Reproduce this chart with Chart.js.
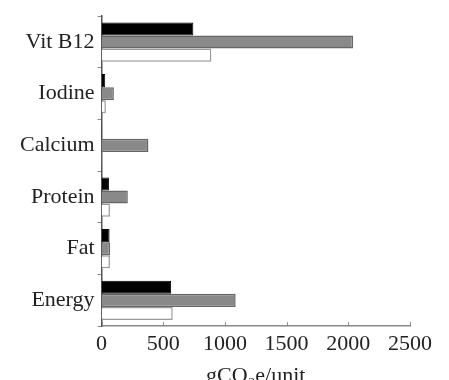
<!DOCTYPE html>
<html>
<head>
<meta charset="utf-8">
<script src="https://cdn.jsdelivr.net/npm/chart.js@4"></script>
<style>
  html, body { margin: 0; padding: 0; background: #fff; overflow: hidden; }
  #wrap { width: 449px; height: 389px; }
</style>
</head>
<body>
<div id="wrap"><canvas id="myChart" width="449" height="389"></canvas></div>
<script>
const categories = ['Vit B12', 'Iodine', 'Calcium', 'Protein', 'Fat', 'Energy'];
const blackSeries = [744, 30, 5, 60, 65, 564];
const greySeries = [2039, 100, 380, 213, 70, 1087];
const whiteSeries = [890, 35, 5, 68, 68, 577];
const xTicks = [0, 500, 1000, 1500, 2000, 2500];

const serif = 'Liberation Serif';

// small upward tick marks on the x axis
const innerTicks = {
  id: 'innerTicks',
  afterDraw(chart) {
    const ctx = chart.ctx;
    const x = chart.scales.x;
    ctx.save();
    ctx.strokeStyle = '#888';
    ctx.lineWidth = 1;
    xTicks.forEach(v => {
      const px = Math.round(x.getPixelForValue(v)) + 0.5;
      ctx.beginPath();
      ctx.moveTo(px, x.top);
      ctx.lineTo(px, x.top - 4);
      ctx.stroke();
    });
    ctx.restore();
  }
};

const chart = new Chart('myChart', {
  type: 'bar',
  data: {
    labels: categories,
    datasets: [
      { data: blackSeries, backgroundColor: '#000', borderColor: '#000', borderWidth: 1 },
      { data: greySeries, backgroundColor: '#898989', borderColor: '#666', borderWidth: 1.5 },
      { data: whiteSeries, backgroundColor: '#fff', borderColor: '#999', borderWidth: 1.5 }
    ]
  },
  options: {
    indexAxis: 'y',
    responsive: false,
    animation: false,
    datasets: {
      bar: { categoryPercentage: 0.76, barPercentage: 1 }
    },
    layout: { padding: { top: 10, right: 39, left: 17, bottom: 0 } },
    scales: {
      x: {
        min: 0,
        max: 2500,
        afterBuildTicks: s => { s.ticks = xTicks.map(v => ({ value: v })); },
        grid: { display: false, drawTicks: false },
        border: { display: true, color: '#888', width: 1.5 },
        ticks: {
          color: '#222', padding: 5, font: { family: serif, size: 22 },
          callback: v => String(v)
        },
        title: {
          display: true,
          text: 'gCO₂e/unit',
          color: '#222',
          padding: { top: 0, bottom: 0 },
          font: { family: serif, size: 22 }
        }
      },
      y: {
        grid: { drawOnChartArea: false, tickLength: 4, color: '#888' },
        border: { display: true, color: '#555', width: 1.5 },
        ticks: { color: '#222', padding: 3, font: { family: serif, size: 22 } }
      }
    },
    plugins: {
      legend: { display: false },
      tooltip: { enabled: false }
    }
  },
  plugins: [innerTicks]
});
</script>
</body>
</html>
